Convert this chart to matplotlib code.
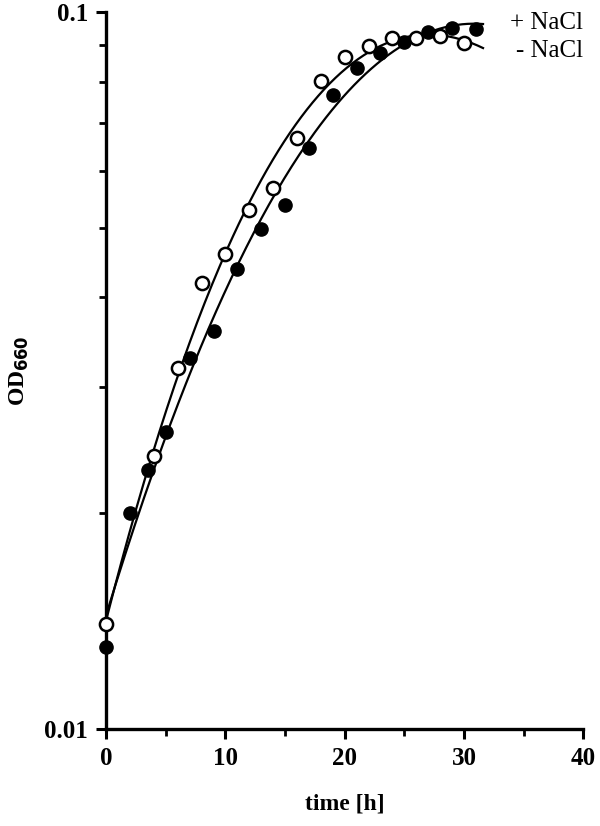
import matplotlib
matplotlib.use("Agg")
import matplotlib.pyplot as plt
import numpy as np
from matplotlib.ticker import FixedLocator, LogLocator, NullFormatter

t_filled = [0, 2, 3.5, 5, 7, 9, 11, 13, 15, 17, 19, 21, 23, 25, 27, 29, 31]
od_filled = [0.0130, 0.0200, 0.0230, 0.0260, 0.0329, 0.0359, 0.0438, 0.0498, 0.0538,
             0.0646, 0.0766, 0.0836, 0.0877, 0.0908, 0.0938, 0.0950, 0.0947]

t_open = [0, 4, 6, 8, 10, 12, 14, 16, 18, 20, 22, 24, 26, 28, 30]
od_open = [0.0140, 0.0240, 0.0319, 0.0419, 0.0460, 0.0530, 0.0568, 0.0667,
           0.0801, 0.0866, 0.0897, 0.0920, 0.0920, 0.0926, 0.0905]

legend_labels = ["+ NaCl", "- NaCl"]

plt.rcParams['font.family'] = ['Liberation Serif', 'DejaVu Serif']

fig = plt.figure(figsize=(6.0, 8.26), dpi=100)
ax = fig.add_axes([0.177, 0.1174, 0.795, 0.868])

# fitted curves (cubic in log OD)
tt = np.linspace(0, 31.6, 200)
for t, od in [(t_filled, od_filled), (t_open, od_open)]:
    coef = np.polyfit(t, np.log10(od), 3)
    ax.plot(tt, 10 ** np.polyval(coef, tt), color='black', lw=1.6, zorder=2)

ax.plot(t_filled, od_filled, 'o', ms=9.5, color='black', zorder=3, clip_on=False)
ax.plot(t_open, od_open, 'o', ms=9.5, mfc='white', mec='black', mew=1.8, zorder=3,
        clip_on=False)

ax.set_yscale('log')
ax.set_xlim(0, 40)
ax.set_ylim(0.01, 0.1)

ax.yaxis.set_major_locator(FixedLocator([0.01, 0.1]))
ax.set_yticklabels(['0.01', '0.1'])
ax.yaxis.set_minor_locator(LogLocator(base=10, subs=np.arange(2, 10)))
ax.yaxis.set_minor_formatter(NullFormatter())
ax.set_xticks([0, 10, 20, 30, 40])
ax.set_xticks([5, 15, 25, 35], minor=True)

for s in ['top', 'right']:
    ax.spines[s].set_visible(False)
for s in ['left', 'bottom']:
    ax.spines[s].set_linewidth(2.4)

ax.tick_params(which='major', length=7, width=2.2, labelsize=18, pad=6)
ax.tick_params(which='minor', length=5, width=2.0)
for lab in ax.get_xticklabels() + ax.get_yticklabels():
    lab.set_fontweight('bold')

ax.set_xlabel('time [h]', fontsize=17, fontweight='bold', labelpad=17)
ax.set_ylabel('OD$_{\\mathbf{660}}$', fontsize=17, fontweight='bold', labelpad=10)

for i, lab in enumerate(legend_labels):
    ax.text(1.0, 0.985 - i * 0.04, lab, transform=ax.transAxes, ha='right', va='center',
            fontsize=18)

fig.savefig('out.png', dpi=100)
